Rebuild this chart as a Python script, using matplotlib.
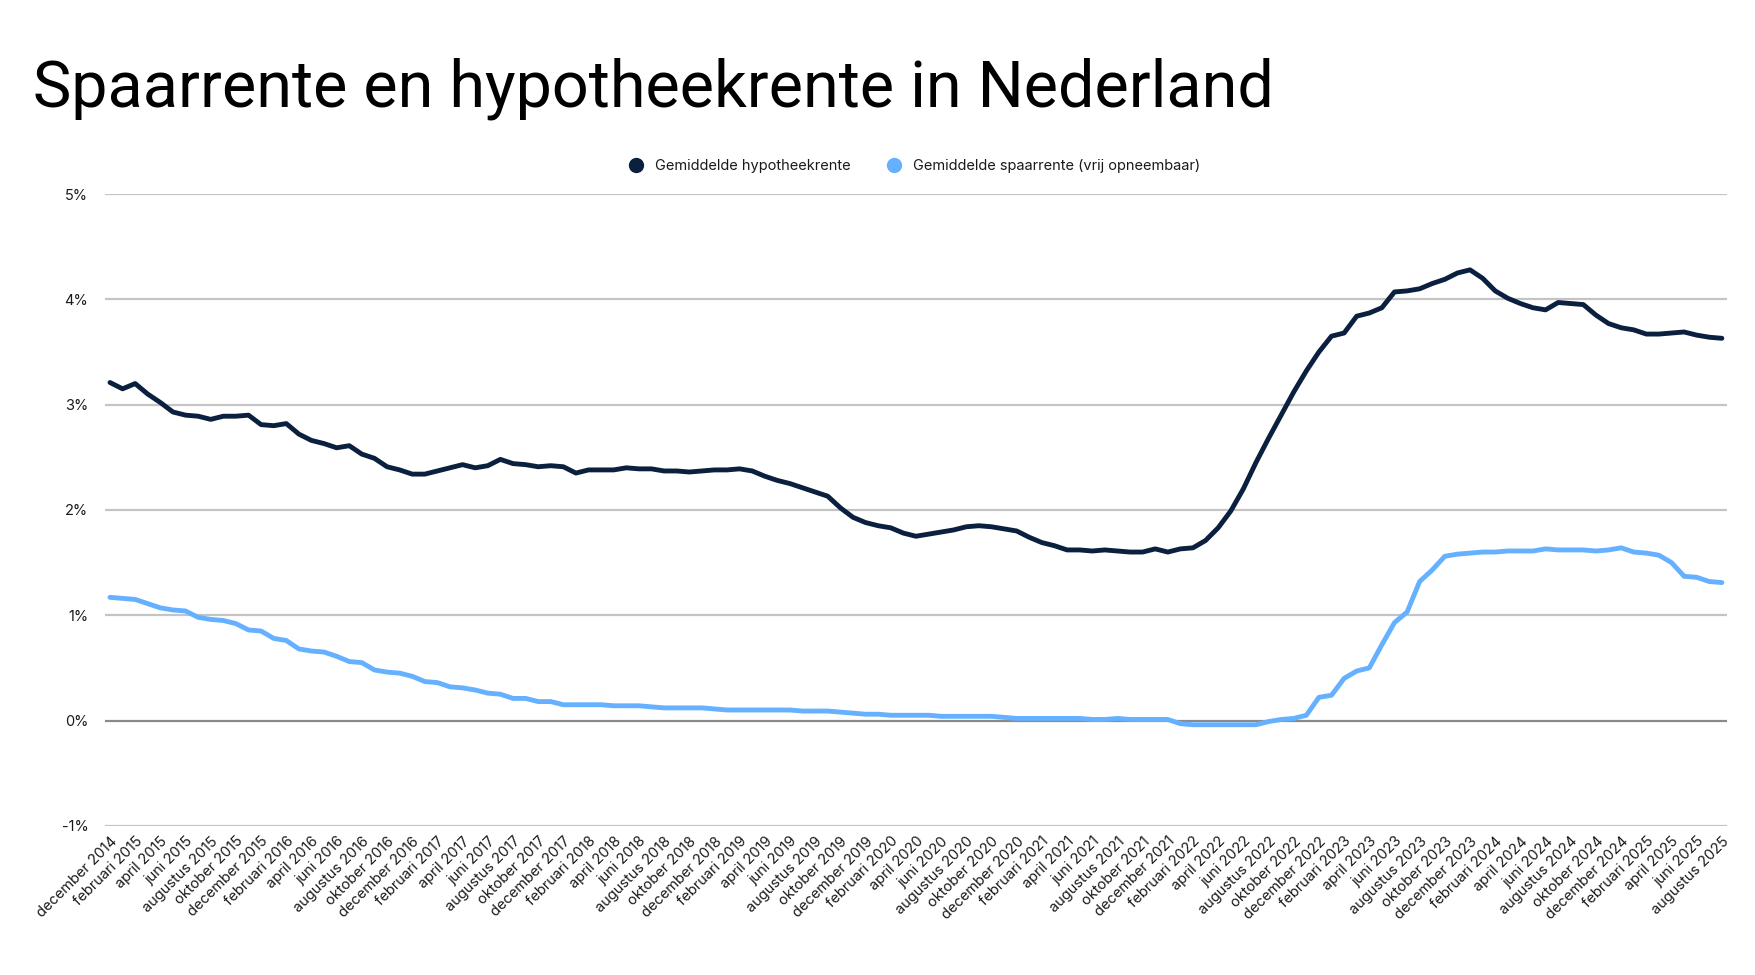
import matplotlib.pyplot as plt
from matplotlib.lines import Line2D

plt.rcParams['font.family'] = ['Inter', 'DejaVu Sans']

# maandelijkse data, december 2014 t/m augustus 2025
maanden = ['januari', 'februari', 'maart', 'april', 'mei', 'juni', 'juli',
           'augustus', 'september', 'oktober', 'november', 'december']
start_jaar, start_maand, aantal = 2014, 12, 129

hypotheekrente = [
    3.21, 3.15, 3.20, 3.10, 3.02, 2.93, 2.90, 2.89, 2.86, 2.89,
    2.89, 2.90, 2.81, 2.80, 2.82, 2.72, 2.66, 2.63, 2.59, 2.61,
    2.53, 2.49, 2.41, 2.38, 2.34, 2.34, 2.37, 2.40, 2.43, 2.40,
    2.42, 2.48, 2.44, 2.43, 2.41, 2.42, 2.41, 2.35, 2.38, 2.38,
    2.38, 2.40, 2.39, 2.39, 2.37, 2.37, 2.36, 2.37, 2.38, 2.38,
    2.39, 2.37, 2.32, 2.28, 2.25, 2.21, 2.17, 2.13, 2.02, 1.93,
    1.88, 1.85, 1.83, 1.78, 1.75, 1.77, 1.79, 1.81, 1.84, 1.85,
    1.84, 1.82, 1.80, 1.74, 1.69, 1.66, 1.62, 1.62, 1.61, 1.62,
    1.61, 1.60, 1.60, 1.63, 1.60, 1.63, 1.64, 1.71, 1.83, 1.99,
    2.20, 2.45, 2.68, 2.90, 3.12, 3.32, 3.50, 3.65, 3.68, 3.84,
    3.87, 3.92, 4.07, 4.08, 4.10, 4.15, 4.19, 4.25, 4.28, 4.20,
    4.08, 4.01, 3.96, 3.92, 3.90, 3.97, 3.96, 3.95, 3.85, 3.77,
    3.73, 3.71, 3.67, 3.67, 3.68, 3.69, 3.66, 3.64, 3.63,
]

spaarrente = [
    1.17, 1.16, 1.15, 1.11, 1.07, 1.05, 1.04, 0.98, 0.96, 0.95,
    0.92, 0.86, 0.85, 0.78, 0.76, 0.68, 0.66, 0.65, 0.61, 0.56,
    0.55, 0.48, 0.46, 0.45, 0.42, 0.37, 0.36, 0.32, 0.31, 0.29,
    0.26, 0.25, 0.21, 0.21, 0.18, 0.18, 0.15, 0.15, 0.15, 0.15,
    0.14, 0.14, 0.14, 0.13, 0.12, 0.12, 0.12, 0.12, 0.11, 0.10,
    0.10, 0.10, 0.10, 0.10, 0.10, 0.09, 0.09, 0.09, 0.08, 0.07,
    0.06, 0.06, 0.05, 0.05, 0.05, 0.05, 0.04, 0.04, 0.04, 0.04,
    0.04, 0.03, 0.02, 0.02, 0.02, 0.02, 0.02, 0.02, 0.01, 0.01,
    0.02, 0.01, 0.01, 0.01, 0.01, -0.03, -0.04, -0.04, -0.04, -0.04,
    -0.04, -0.04, -0.01, 0.01, 0.02, 0.05, 0.22, 0.24, 0.40, 0.47,
    0.50, 0.72, 0.93, 1.03, 1.32, 1.43, 1.56, 1.58, 1.59, 1.60,
    1.60, 1.61, 1.61, 1.61, 1.63, 1.62, 1.62, 1.62, 1.61, 1.62,
    1.64, 1.60, 1.59, 1.57, 1.50, 1.37, 1.36, 1.32, 1.31,
]

y_ticks = [-1, 0, 1, 2, 3, 4, 5]

DONKER = '#0b1f3f'
LICHT = '#66b1ff'
TEKST = '#1a1a1a'

labels = []
for k in range(aantal):
    m = start_maand - 1 + k
    labels.append(f"{maanden[m % 12]} {start_jaar + m // 12}")
x = list(range(aantal))

fig = plt.figure(figsize=(17.55, 9.75), dpi=100)
ax = fig.add_axes([0.0598, 0.153, 0.9242, 0.648])

ax.plot(x, hypotheekrente, color=DONKER, lw=3.5, solid_joinstyle='round',
        solid_capstyle='round', zorder=3)
ax.plot(x, spaarrente, color=LICHT, lw=3.5, solid_joinstyle='round',
        solid_capstyle='round', zorder=3)

ax.set_xlim(-0.4, aantal - 1 + 0.4)
ax.set_ylim(-1, 5)
ax.set_yticks(y_ticks)
ax.set_yticklabels([f"{t}%" for t in y_ticks])
for t in y_ticks:
    if t == 0:
        ax.axhline(t, color='#8a8a8a', lw=1.6, zorder=2)
    else:
        ax.axhline(t, color='#c4c4c4', lw=1.6, zorder=1)

ax.set_xticks(x[::2])
ax.set_xticklabels(labels[::2], rotation=45, ha='right', rotation_mode='anchor')
ax.tick_params(axis='x', length=0, pad=6, labelsize=10.5, labelcolor=TEKST)
ax.tick_params(axis='y', length=0, pad=12, labelsize=10.5, labelcolor=TEKST)
for s in ax.spines.values():
    s.set_visible(False)

fig.text(0.019, 0.891, 'Spaarrente en hypotheekrente in Nederland',
         fontsize=46.5, family=['Roboto', 'DejaVu Sans'], color='black',
         ha='left', va='baseline')

handles = [
    Line2D([], [], marker='o', ls='none', color=DONKER, markersize=10),
    Line2D([], [], marker='o', ls='none', color=LICHT, markersize=10),
]
fig.legend(handles, ['Gemiddelde hypotheekrente',
                     'Gemiddelde spaarrente (vrij opneembaar)'],
           loc='center', bbox_to_anchor=(0.519, 0.830), ncol=2, frameon=False,
           fontsize=10.5, handletextpad=0.3, columnspacing=2.0,
           labelcolor=TEKST)

fig.savefig('out.png', dpi=100, facecolor='white')
